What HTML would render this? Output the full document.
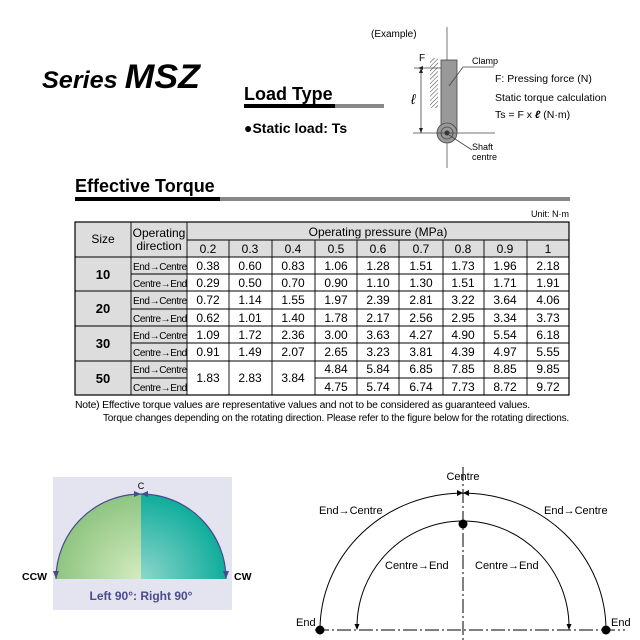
<!DOCTYPE html>
<html><head><meta charset="utf-8"><style>
body{margin:0;background:#fff;}
svg{display:block;font-family:"Liberation Sans",Arial,sans-serif;}
</style></head><body>
<svg width="640" height="640" viewBox="0 0 640 640" xmlns="http://www.w3.org/2000/svg">
<defs>
<radialGradient id="gl" cx="141" cy="579" r="95" gradientUnits="userSpaceOnUse"><stop offset="0" stop-color="#d4ecc0"/><stop offset="1" stop-color="#86c07a"/></radialGradient>
<radialGradient id="gr" cx="141" cy="579" r="95" gradientUnits="userSpaceOnUse"><stop offset="0" stop-color="#8fd6cc"/><stop offset="1" stop-color="#00a896"/></radialGradient>
<pattern id="hatch" width="3" height="3" patternUnits="userSpaceOnUse" patternTransform="rotate(45)"><line x1="0" y1="0" x2="0" y2="3" stroke="#444" stroke-width="1"/></pattern>
</defs>
<!-- Headings -->
<text x="42" y="88" font-size="24" font-weight="bold" font-style="italic" textLength="158" lengthAdjust="spacingAndGlyphs">Series <tspan font-size="34">MSZ</tspan></text>
<text x="244" y="100" font-size="18" font-weight="bold">Load Type</text>
<rect x="244" y="104" width="91" height="4" fill="#000"/><rect x="335" y="104" width="49" height="4" fill="#888"/>
<text x="244" y="133" font-size="14" font-weight="bold">●Static load: Ts</text>
<text x="75" y="192" font-size="18" font-weight="bold">Effective Torque</text>
<rect x="75" y="197" width="145" height="4" fill="#000"/><rect x="220" y="197" width="350" height="4" fill="#888"/>
<!-- Clamp figure -->
<text x="371" y="37" font-size="10">(Example)</text>
<line x1="447" y1="27" x2="447" y2="168" stroke="#555" stroke-width="0.8"/>
<rect x="430" y="58" width="8" height="50" fill="url(#hatch)"/>
<rect x="441" y="60" width="16" height="72" fill="#999" stroke="#444" stroke-width="0.8"/>
<circle cx="447" cy="133" r="10" fill="#999" stroke="#444" stroke-width="0.8"/>
<circle cx="447" cy="133" r="6" fill="none" stroke="#444" stroke-width="0.8"/>
<circle cx="447" cy="133" r="2.5" fill="#333"/>
<line x1="413" y1="133" x2="495" y2="133" stroke="#444" stroke-width="0.8"/>
<line x1="414" y1="68" x2="441" y2="68" stroke="#444" stroke-width="0.8"/>
<line x1="421" y1="68" x2="421" y2="133" stroke="#444" stroke-width="0.8"/>
<path d="M421 68 l-2 5 h4z M421 133 l-2 -5 h4z M418 68 l5 -2 v4z" fill="#222"/>
<text x="419" y="61" font-size="10">F</text>
<text x="411" y="104" font-size="14" font-style="italic">ℓ</text>
<polyline points="449,86 463,67 494,67" fill="none" stroke="#444" stroke-width="0.8"/>
<text x="472" y="64" font-size="9">Clamp</text>
<text x="495" y="82" font-size="10.5">F: Pressing force (N)</text>
<text x="495" y="101" font-size="10.5">Static torque calculation</text>
<text x="495" y="118" font-size="10.5">Ts = F x <tspan font-style="italic" font-weight="bold">ℓ</tspan> (N·m)</text>
<line x1="449" y1="135" x2="472" y2="150" stroke="#444" stroke-width="0.8"/>
<text x="472" y="150" font-size="9">Shaft</text>
<text x="472" y="160" font-size="9">centre</text>
<!-- Table -->
<text x="569" y="217" font-size="9" text-anchor="end">Unit: N·m</text>
<g>
<rect x="75" y="222" width="494" height="35" fill="#ddd"/>
<rect x="75" y="257" width="112" height="138" fill="#ddd"/>
<rect x="75" y="222" width="494" height="173" fill="none" stroke="#000" stroke-width="1.2"/>
<g stroke="#000" stroke-width="0.9">
<line x1="131" y1="222" x2="131" y2="395"/><line x1="187" y1="222" x2="187" y2="395"/>
<line x1="187" y1="240" x2="569" y2="240"/>
<line x1="75" y1="257" x2="569" y2="257"/>
<line x1="75" y1="291" x2="569" y2="291"/><line x1="75" y1="326" x2="569" y2="326"/><line x1="75" y1="361" x2="569" y2="361"/>
<line x1="131" y1="274" x2="569" y2="274"/><line x1="131" y1="309" x2="569" y2="309"/><line x1="131" y1="343" x2="569" y2="343"/>
<line x1="131" y1="378" x2="187" y2="378"/><line x1="315" y1="378" x2="569" y2="378"/>
<line x1="229" y1="240" x2="229" y2="395"/><line x1="272" y1="240" x2="272" y2="395"/><line x1="315" y1="240" x2="315" y2="395"/>
<line x1="357" y1="240" x2="357" y2="395"/><line x1="399" y1="240" x2="399" y2="395"/><line x1="443" y1="240" x2="443" y2="395"/>
<line x1="484" y1="240" x2="484" y2="395"/><line x1="527" y1="240" x2="527" y2="395"/>
</g>
<g font-size="12" text-anchor="middle">
<text x="103" y="243">Size</text>
<text x="159" y="237">Operating</text><text x="159" y="250">direction</text>
<text x="378" y="236">Operating pressure (MPa)</text>
<text x="208" y="253">0.2</text><text x="250" y="253">0.3</text><text x="293" y="253">0.4</text><text x="336" y="253">0.5</text><text x="378" y="253">0.6</text><text x="421" y="253">0.7</text><text x="463" y="253">0.8</text><text x="505" y="253">0.9</text><text x="548" y="253">1</text>
</g>
<g font-size="13" font-weight="bold" text-anchor="middle">
<text x="103" y="279">10</text><text x="103" y="313">20</text><text x="103" y="348">30</text><text x="103" y="383">50</text>
</g>
<g font-size="10" letter-spacing="-0.4">
<text x="133" y="270">End→Centre</text><text x="133" y="287">Centre→End</text>
<text x="133" y="304">End→Centre</text><text x="133" y="322">Centre→End</text>
<text x="133" y="339">End→Centre</text><text x="133" y="356">Centre→End</text>
<text x="133" y="373">End→Centre</text><text x="133" y="391">Centre→End</text>
</g>
<g font-size="12" text-anchor="middle">
<text y="270"><tspan x="208">0.38</tspan><tspan x="250">0.60</tspan><tspan x="293">0.83</tspan><tspan x="336">1.06</tspan><tspan x="378">1.28</tspan><tspan x="421">1.51</tspan><tspan x="463">1.73</tspan><tspan x="505">1.96</tspan><tspan x="548">2.18</tspan></text>
<text y="287"><tspan x="208">0.29</tspan><tspan x="250">0.50</tspan><tspan x="293">0.70</tspan><tspan x="336">0.90</tspan><tspan x="378">1.10</tspan><tspan x="421">1.30</tspan><tspan x="463">1.51</tspan><tspan x="505">1.71</tspan><tspan x="548">1.91</tspan></text>
<text y="304"><tspan x="208">0.72</tspan><tspan x="250">1.14</tspan><tspan x="293">1.55</tspan><tspan x="336">1.97</tspan><tspan x="378">2.39</tspan><tspan x="421">2.81</tspan><tspan x="463">3.22</tspan><tspan x="505">3.64</tspan><tspan x="548">4.06</tspan></text>
<text y="322"><tspan x="208">0.62</tspan><tspan x="250">1.01</tspan><tspan x="293">1.40</tspan><tspan x="336">1.78</tspan><tspan x="378">2.17</tspan><tspan x="421">2.56</tspan><tspan x="463">2.95</tspan><tspan x="505">3.34</tspan><tspan x="548">3.73</tspan></text>
<text y="339"><tspan x="208">1.09</tspan><tspan x="250">1.72</tspan><tspan x="293">2.36</tspan><tspan x="336">3.00</tspan><tspan x="378">3.63</tspan><tspan x="421">4.27</tspan><tspan x="463">4.90</tspan><tspan x="505">5.54</tspan><tspan x="548">6.18</tspan></text>
<text y="356"><tspan x="208">0.91</tspan><tspan x="250">1.49</tspan><tspan x="293">2.07</tspan><tspan x="336">2.65</tspan><tspan x="378">3.23</tspan><tspan x="421">3.81</tspan><tspan x="463">4.39</tspan><tspan x="505">4.97</tspan><tspan x="548">5.55</tspan></text>
<text y="382"><tspan x="208">1.83</tspan><tspan x="250">2.83</tspan><tspan x="293">3.84</tspan></text>
<text y="373"><tspan x="336">4.84</tspan><tspan x="378">5.84</tspan><tspan x="421">6.85</tspan><tspan x="463">7.85</tspan><tspan x="505">8.85</tspan><tspan x="548">9.85</tspan></text>
<text y="391"><tspan x="336">4.75</tspan><tspan x="378">5.74</tspan><tspan x="421">6.74</tspan><tspan x="463">7.73</tspan><tspan x="505">8.72</tspan><tspan x="548">9.72</tspan></text>
</g>
</g>
<g font-size="10" letter-spacing="-0.2">
<text x="75" y="408" textLength="455" lengthAdjust="spacingAndGlyphs">Note) Effective torque values are representative values and not to be considered as guaranteed values.</text>
<text x="103" y="421" textLength="466" lengthAdjust="spacingAndGlyphs">Torque changes depending on the rotating direction. Please refer to the figure below for the rotating directions.</text>
</g>
<!-- Left diagram -->
<rect x="53" y="477" width="179" height="133" fill="#e4e4f0"/>
<path d="M56 579 A85 85 0 0 1 141 494 V579Z" fill="url(#gl)"/>
<path d="M141 494 A85 85 0 0 1 226 579 H141Z" fill="url(#gr)"/>
<path d="M56 579 A85 85 0 0 1 226 579" fill="none" stroke="#4a4a8f" stroke-width="1.2"/>
<path d="M56 579 l-3 -8 h6z M226 579 l-3 -8 h6z M141 494 l-7 -3 v6z M141 494 l7 -3 v6z" fill="#4a4a8f"/>
<text x="141" y="489" font-size="9" text-anchor="middle">C</text>
<text x="22" y="580" font-size="10.5" font-weight="bold">CCW</text>
<text x="234" y="580" font-size="10.5" font-weight="bold">CW</text>
<text x="141" y="600" font-size="12" font-weight="bold" fill="#4a4a8f" text-anchor="middle">Left 90°: Right 90°</text>
<!-- Right diagram -->
<line x1="463" y1="467" x2="463" y2="640" stroke="#000" stroke-width="1" stroke-dasharray="14,3,2,3"/>
<line x1="315" y1="630" x2="625" y2="630" stroke="#000" stroke-width="1" stroke-dasharray="14,3,2,3"/>
<path d="M320 630 A143 137 0 0 1 606 630" fill="none" stroke="#000" stroke-width="1"/>
<path d="M357 627 A106 106 0 0 1 569 627" fill="none" stroke="#000" stroke-width="1"/>
<path d="M463 493 l-6 -3 v6z M463 493 l6 -3 v6z M357 630 l-2.5 -6 h5z M569 630 l-2.5 -6 h5z" fill="#000"/>
<circle cx="463" cy="524" r="4.5" fill="#000"/>
<circle cx="320" cy="630" r="4.5" fill="#000"/>
<circle cx="606" cy="630" r="4.5" fill="#000"/>
<g font-size="11">
<text x="463" y="480" text-anchor="middle">Centre</text>
<text x="319" y="514">End→Centre</text>
<text x="544" y="514">End→Centre</text>
<text x="385" y="569">Centre→End</text>
<text x="475" y="569">Centre→End</text>
<text x="296" y="626">End</text>
<text x="611" y="626">End</text>
</g>
</svg>
</body></html>
